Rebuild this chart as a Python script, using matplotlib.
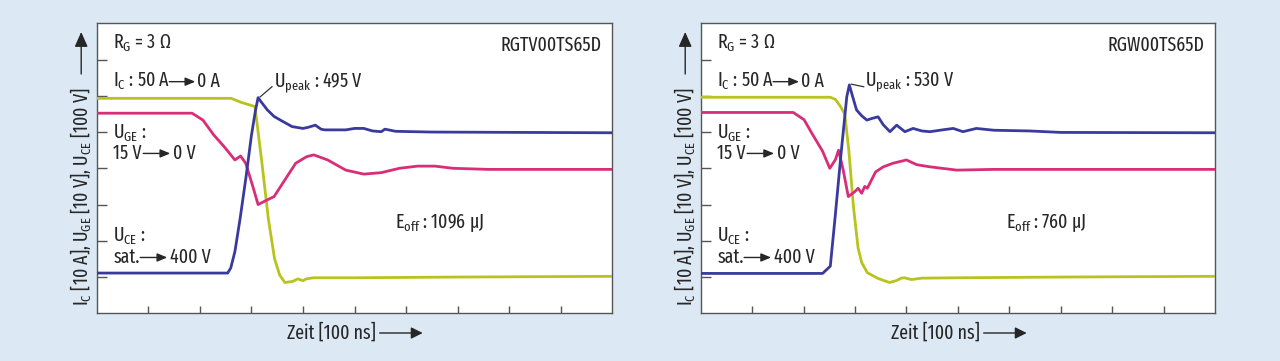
import matplotlib
matplotlib.use("Agg")
import matplotlib.pyplot as plt
from matplotlib.patches import FancyArrowPatch

MAINFONT = 'Fira Sans Extra Condensed'
FONT = [MAINFONT, 'Fira Sans Condensed', 'DejaVu Sans']
plt.rcParams['font.family'] = FONT
plt.rcParams['mathtext.fontset'] = 'custom'
plt.rcParams['mathtext.rm'] = MAINFONT
plt.rcParams['mathtext.it'] = MAINFONT

# ---------------- data (time in 100 ns, y in divisions) ----------------
# Left: RGTV00TS65D
t_ic_L = [0, 2.61, 2.8, 2.96, 3.03, 3.07, 3.2, 3.33, 3.45, 3.55, 3.65, 3.8, 3.9, 4.0, 4.07, 4.2, 5.0, 7.0, 10.0]
ic_L = [5.93, 5.93, 5.82, 5.75, 5.72, 5.70, 4.2, 2.6, 1.5, 1.05, 0.85, 0.88, 0.95, 0.9, 0.95, 0.98, 0.98, 1.0, 1.02]

t_uce_L = [0, 2.54, 2.6, 2.68, 2.78, 2.9, 3.0, 3.08, 3.13, 3.18, 3.31, 3.44, 3.6, 3.79, 4.0, 4.1, 4.24, 4.35,
           4.42, 4.83, 5.0, 5.18, 5.35, 5.52, 5.59, 5.8, 6.5, 10.0]
uce_L = [1.11, 1.11, 1.25, 1.7, 2.6, 3.8, 4.9, 5.6, 5.95, 5.85, 5.61, 5.43, 5.3, 5.15, 5.1, 5.13, 5.19, 5.08,
         5.06, 5.06, 5.1, 5.1, 5.03, 5.01, 5.08, 5.02, 5.0, 4.98]

t_uge_L = [0, 1.85, 2.06, 2.27, 2.47, 2.68, 2.79, 2.89, 3.03, 3.13, 3.31, 3.44, 3.65, 3.86, 4.07, 4.21, 4.48,
           4.83, 5.18, 5.52, 5.87, 6.22, 6.56, 6.91, 7.6, 10.0]
uge_L = [5.52, 5.52, 5.33, 4.92, 4.6, 4.23, 4.34, 4.14, 3.49, 3.0, 3.13, 3.22, 3.68, 4.14, 4.32, 4.37, 4.23,
         3.95, 3.84, 3.88, 4.0, 4.06, 4.06, 4.0, 3.97, 3.97]

# Right: RGW00TS65D
t_ic_R = [0, 2.52, 2.62, 2.71, 2.8, 2.88, 2.97, 3.06, 3.13, 3.24, 3.45, 3.67, 3.8, 3.9, 3.96, 4.1, 4.3, 5.0, 7.0, 10.0]
ic_R = [5.96, 5.96, 5.9, 5.72, 5.5, 4.5, 2.94, 1.8, 1.4, 1.12, 0.96, 0.85, 0.9, 0.97, 0.98, 0.93, 0.97, 0.98, 1.0, 1.02]

t_uce_R = [0, 2.37, 2.52, 2.61, 2.73, 2.84, 2.89, 2.95, 3.03, 3.13, 3.23, 3.34, 3.45, 3.55, 3.68, 3.81, 3.97,
           4.13, 4.3, 4.46, 4.7, 4.91, 5.1, 5.36, 5.7, 6.4, 7.0, 10.0]
uce_R = [1.1, 1.1, 1.3, 2.6, 4.42, 5.97, 6.3, 6.0, 5.61, 5.45, 5.33, 5.38, 5.42, 5.2, 5.01, 5.19, 5.01,
         5.10, 5.03, 5.01, 5.06, 5.10, 5.01, 5.1, 5.05, 5.03, 4.99, 4.98]

t_uge_R = [0, 1.8, 2.01, 2.16, 2.37, 2.51, 2.62, 2.68, 2.77, 2.87, 3.0, 3.06, 3.13, 3.19, 3.24, 3.29, 3.4,
           3.55, 3.74, 4.0, 4.2, 4.46, 4.98, 5.7, 10.0]
uge_R = [5.54, 5.54, 5.34, 4.97, 4.47, 4.0, 4.24, 4.5, 3.96, 3.22, 3.36, 3.45, 3.31, 3.5, 3.45, 3.59, 3.9,
         4.04, 4.14, 4.23, 4.1, 4.04, 3.95, 3.97, 3.97]

x_ticks = [1, 2, 3, 4, 5, 6, 7, 8, 9]
y_ticks = [1, 2, 3, 4, 5, 6, 7]

panels = [
    dict(name="RGTV00TS65D", peak="495 V", eoff="1096 µJ",
         t_ic=t_ic_L, ic=ic_L, t_uce=t_uce_L, uce=uce_L, t_uge=t_uge_L, uge=uge_L,
         left=96.7, width=515.6, peak_xy=(3.13, 5.95), peak_text_x=3.43, eoff_x=5.79),
    dict(name="RGW00TS65D", peak="530 V", eoff="760 µJ",
         t_ic=t_ic_R, ic=ic_R, t_uce=t_uce_R, uce=uce_R, t_uge=t_uge_R, uge=uge_R,
         left=700.7, width=514.3, peak_xy=(2.89, 6.3), peak_text_x=3.2, eoff_x=5.94),
]

C_IC = '#b9c31e'
C_UCE = '#3a3a9e'
C_UGE = '#d92d78'
BG = '#dce9f5'
SPINE = '#555555'
TXT = '#262626'

W, H = 1280, 361
fig = plt.figure(figsize=(W / 100, H / 100), dpi=100)
fig.patch.set_facecolor(BG)

FS = 14
AP = dict(arrowstyle='-|>,head_length=0.6,head_width=0.25', color=TXT, lw=1.0, shrinkA=0, shrinkB=0)

for p in panels:
    ax = fig.add_axes([p['left'] / W, (H - 313.3) / H, p['width'] / W, 290 / H])
    ax.set_facecolor('white')
    ax.set_xlim(0, 10)
    ax.set_ylim(0, 8)
    for s in ax.spines.values():
        s.set_color(SPINE)
        s.set_linewidth(1.0)
    ax.set_xticks(x_ticks)
    ax.set_yticks(y_ticks)
    ax.tick_params(axis='x', direction='in', length=5, width=1.0, color=SPINE, labelbottom=False)
    ax.tick_params(axis='y', direction='in', length=7, width=1.0, color=SPINE, labelleft=False)

    ax.plot(p['t_ic'], p['ic'], color=C_IC, lw=2.0, zorder=3)
    ax.plot(p['t_uge'], p['uge'], color=C_UGE, lw=2.0, zorder=3)
    ax.plot(p['t_uce'], p['uce'], color=C_UCE, lw=2.0, zorder=4)

    sx = 51.5  # px per x unit

    def xu(px):
        return px / sx

    x0 = 0.32
    ax.text(x0, 7.45, r"R$_\mathregular{G}$ = 3 Ω", fontsize=FS, va='center', ha='left', color=TXT)
    ax.text(9.8, 7.4, p['name'], fontsize=FS, va='center', ha='right', color=TXT)

    # I_C line
    ax.text(x0, 6.39, r"I$_\mathregular{C}$ : 50 A", fontsize=FS, va='center', ha='left', color=TXT)
    ax.annotate("", xy=(x0 + xu(82), 6.39), xytext=(x0 + xu(56), 6.39), arrowprops=AP)
    ax.text(x0 + xu(84), 6.39, "0 A", fontsize=FS, va='center', ha='left', color=TXT)

    # U_GE
    ax.text(x0, 4.97, r"U$_\mathregular{GE}$ :", fontsize=FS, va='center', ha='left', color=TXT)
    ax.text(x0, 4.41, "15 V", fontsize=FS, va='center', ha='left', color=TXT)
    ax.annotate("", xy=(x0 + xu(57), 4.41), xytext=(x0 + xu(30), 4.41), arrowprops=AP)
    ax.text(x0 + xu(60), 4.41, "0 V", fontsize=FS, va='center', ha='left', color=TXT)

    # U_CE
    ax.text(x0, 2.11, r"U$_\mathregular{CE}$ :", fontsize=FS, va='center', ha='left', color=TXT)
    ax.text(x0, 1.54, "sat.", fontsize=FS, va='center', ha='left', color=TXT)
    ax.annotate("", xy=(x0 + xu(54), 1.54), xytext=(x0 + xu(27), 1.54), arrowprops=AP)
    ax.text(x0 + xu(57), 1.54, "400 V", fontsize=FS, va='center', ha='left', color=TXT)

    # U_peak
    ax.text(p['peak_text_x'], 6.39, r"U$_\mathregular{peak}$ : " + p['peak'], fontsize=FS,
            va='center', ha='left', color=TXT)
    pxp, pyp = p['peak_xy']
    ax.plot([pxp + 0.04, p['peak_text_x'] - 0.03], [pyp + 0.02, 6.25], color='#333', lw=0.9, zorder=5)

    # E_off
    ax.text(p['eoff_x'], 2.48, r"E$_\mathregular{off}$ : " + p['eoff'], fontsize=FS,
            va='center', ha='left', color=TXT)

    # x label with arrow
    lx = p['left']
    fig.text((lx + 190.6) / W, (H - 332.5) / H, "Zeit [100 ns]", fontsize=FS, ha='left', va='center',
             color=TXT)
    fig.add_artist(FancyArrowPatch(((lx + 283) / W, (H - 333) / H), ((lx + 326) / W, (H - 333) / H),
                                   transform=fig.transFigure, arrowstyle='-|>,head_length=7,head_width=3.5',
                                   color=TXT, lw=1.0, mutation_scale=1, shrinkA=0, shrinkB=0))
    # y label with arrow
    yx = lx - 15.5
    fig.text(yx / W, (H - 196) / H,
             r"I$_\mathregular{C}$ [10 A], U$_\mathregular{GE}$ [10 V], U$_\mathregular{CE}$ [100 V]",
             fontsize=FS, rotation=90, ha='center', va='center', color=TXT)
    fig.add_artist(FancyArrowPatch((yx / W, (H - 74) / H), (yx / W, (H - 32) / H),
                                   transform=fig.transFigure, arrowstyle='-|>,head_length=9,head_width=4',
                                   color=TXT, lw=1.0, mutation_scale=1, shrinkA=0, shrinkB=0))

fig.savefig("out.png", dpi=100, facecolor=BG)
